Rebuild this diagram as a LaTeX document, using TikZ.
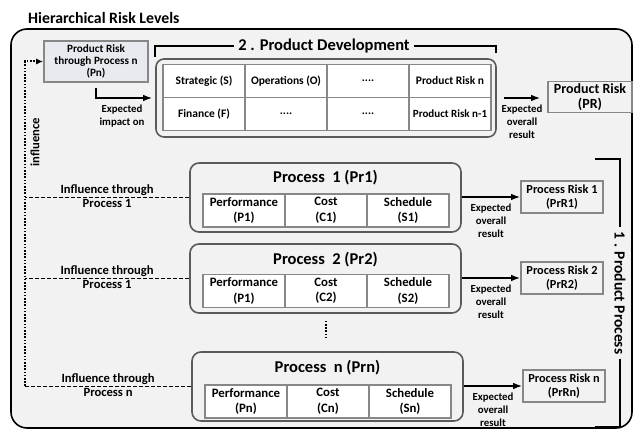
\documentclass[tikz,border=0pt]{standalone}
\usepackage{fontspec}
\setmainfont{Carlito}
\usepackage{tikz}
\usetikzlibrary{arrows.meta,calc,positioning}

\definecolor{bggray}{HTML}{F2F2F2}
\definecolor{cellline}{HTML}{878787}
\definecolor{boxline}{HTML}{5A5A5A}
\definecolor{pnfill}{HTML}{E7EBF0}

\begin{document}
\begin{tikzpicture}[x=1pt,y=-1pt,
    cell/.style={draw=cellline, line width=1.6pt, fill=white, align=center, inner sep=1pt},
    dcell/.style={cell, minimum width=82pt, minimum height=33pt, font=\bfseries\fontsize{11.5}{13.5}\selectfont},
    pcell/.style={cell, minimum width=82pt, minimum height=33pt, font=\bfseries\fontsize{12.8}{15.5}\selectfont},
    procbox/.style={draw=boxline, line width=1.6pt, rounded corners=9pt, fill=bggray, minimum width=271pt, minimum height=69pt},
    proctitle/.style={font=\bfseries\fontsize{16.5}{19}\selectfont},
    riskbox/.style={draw=cellline, line width=1.6pt, fill=bggray, align=center, inner sep=1pt, minimum width=82pt, minimum height=32pt, font=\bfseries\fontsize{12.3}{14.5}\selectfont},
    note/.style={align=center, inner sep=1pt, font=\bfseries\fontsize{10.8}{13}\selectfont},
    inflnote/.style={inner sep=1pt, font=\bfseries\fontsize{12.6}{14}\selectfont},
    bracketlbl/.style={inner sep=4pt, font=\bfseries\fontsize{16.5}{19}\selectfont},
    arr/.style={line width=1.5pt, -{Latex[length=9pt,width=6.5pt]}},
    dashline/.style={line width=1.5pt, dash pattern=on 4pt off 2pt},
    dotline/.style={line width=2pt, dash pattern=on 1.6pt off 1.6pt},
    bracket/.style={line width=1.6pt}
  ]
    \useasboundingbox (0,0) rectangle (634,430);
    \draw[line width=1.6pt, fill=bggray, rounded corners=16pt] (11,29) rectangle (632,428);
    \node[anchor=west, inner sep=0pt, font=\bfseries\fontsize{15.8}{18}\selectfont] (title) at (28,18) {Hierarchical Risk Levels};

    % product level
    \node[draw=cellline, line width=1.6pt, fill=pnfill, align=center, inner sep=1pt, minimum width=104pt, minimum height=41pt, font=\bfseries\fontsize{11.2}{12.4}\selectfont] (pn) at (96,61.5) {Product Risk\\through Process n\\(Pn)};
    \node[draw=boxline, line width=1.6pt, rounded corners=8pt, fill=bggray, minimum width=340pt, minimum height=78pt] (dev) at (326,98) {};
    \node[dcell] (strat) at (204,81) {Strategic (S)};
    \node[dcell] (oper) at (286,81) {Operations (O)};
    \node[dcell] (dots1) at (368,81) {....};
    \node[dcell] (prisk) at (450,81) {Product Risk n};
    \node[dcell] (fin) at (204,114) {Finance (F)};
    \node[dcell] (dots2) at (286,114) {....};
    \node[dcell] (dots3) at (368,114) {....};
    \node[dcell, font=\bfseries\fontsize{11}{13}\selectfont] (prisk1) at (450,114) {Product Risk n-1};
    \node[riskbox, minimum width=84pt, minimum height=31pt, font=\bfseries\fontsize{14}{15.5}\selectfont] (pr) at (590,97) {Product Risk\\(PR)};

    \node[bracketlbl] (devlbl) at (324,46) {2 . Product Development};
    \coordinate (devl) at (155,57);
    \coordinate (devr) at (496,53);
    \draw[bracket] (devl) |- (devlbl.west);
    \draw[bracket] (devlbl.east) -| (devr);

    \draw[arr, shorten <=5pt] (pn.south) |- ([xshift=-3pt]dev.west);
    \node[note] (impact) at (122,116) {Expected\\impact on};
    \draw[arr, shorten <=7pt, shorten >=7pt] (dev.east) -- (dev.east -| pr.west) node[midway, below=5pt, note] (expd) {Expected\\overall\\result};

    % process level
    \node[procbox] (pr1) at (325.5,197.5) {};
    \node[proctitle] (pr1t) at (325.5,178) {Process~ 1 (Pr1)};
    \node[pcell] (perf1) at (244,210.5) {Performance\\(P1)};
    \node[pcell] (cost1) at (326,210.5) {Cost\\(C1)};
    \node[pcell] (sched1) at (408,210.5) {Schedule\\(S1)};

    \node[procbox] (pr2) at (325.5,278.5) {};
    \node[proctitle] (pr2t) at (325.5,260) {Process~ 2 (Pr2)};
    \node[pcell] (perf2) at (244,291) {Performance\\(P1)};
    \node[pcell] (cost2) at (326,291) {Cost\\(C2)};
    \node[pcell] (sched2) at (408,291) {Schedule\\(S2)};

    \node[procbox] (prn) at (327.5,386.5) {};
    \node[proctitle] (prnt) at (327.5,368) {Process~ n (Prn)};
    \node[pcell] (perfn) at (246,401.5) {Performance\\(Pn)};
    \node[pcell] (costn) at (328,401.5) {Cost\\(Cn)};
    \node[pcell] (schedn) at (410,401.5) {Schedule\\(Sn)};

    \draw[dotline, shorten <=7pt, shorten >=12pt] (pr2.south) -- (pr2.south |- prn.north);

    \node[riskbox] (prr1) at (562,197) {Process Risk 1\\(PrR1)};
    \node[riskbox] (prr2) at (562,278) {Process Risk 2\\(PrR2)};
    \node[riskbox] (prrn) at (564,386) {Process Risk n\\(PrRn)};

    \draw[arr] (pr1.east |- prr1) -- (prr1.west) node[midway, below=5pt, note] (exp1) {Expected\\overall\\result};
    \draw[arr] (pr2.east |- prr2) -- (prr2.west) node[midway, below=5pt, note] (exp2) {Expected\\overall\\result};
    \draw[arr] (prn.east |- prrn) -- (prrn.west) node[midway, below=5pt, note] (expn) {Expected\\overall\\result};

    \node[bracketlbl, font=\bfseries\fontsize{15.5}{18}\selectfont, rotate=-90] (pplbl) at (620,293) {1 . Product Process};
    \coordinate (ppt) at (595,159);
    \coordinate (ppb) at (595,427);
    \draw[bracket] (ppt) -| (pplbl.west);
    \draw[bracket] (pplbl.east) |- (ppb);

    % influence
    \coordinate (infl) at (25,386);
    \draw[dotline, -{Latex[length=7pt,width=6pt]}] (infl) |- (pn.west);
    \node[rotate=90, inflnote] (infltxt) at (35,142) {influence};
    \draw[dashline] (pr1.west) -- (pr1.west -| infl) node[midway, inflnote, above] (in1a) {Influence through} node[midway, inflnote, below] (in1b) {Process 1};
    \draw[dashline] (pr2.west) -- (pr2.west -| infl) node[midway, inflnote, above] (in2a) {Influence through} node[midway, inflnote, below] (in2b) {Process 1};
    \draw[dashline] (prn.west) -- (prn.west -| infl) node[midway, inflnote, above] (inna) {Influence through} node[midway, inflnote, below] (innb) {Process n};
\end{tikzpicture}
\end{document}
